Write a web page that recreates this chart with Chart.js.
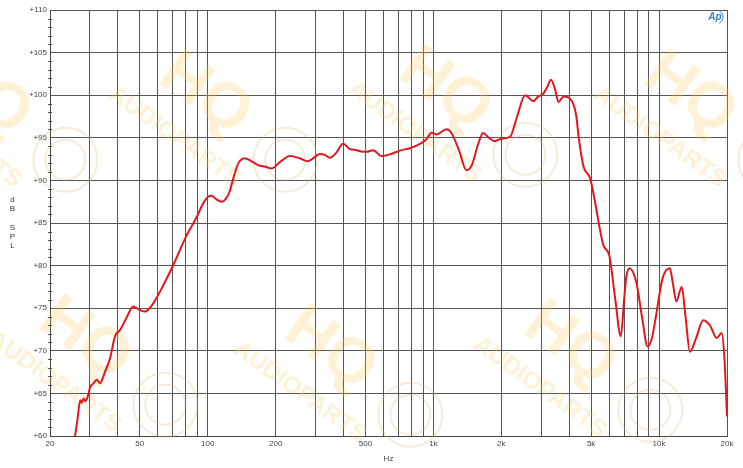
<!DOCTYPE html>
<html lang="en">
<head>
<meta charset="UTF-8">
<title>Frequency response</title>
<script src="https://cdn.jsdelivr.net/npm/chart.js"></script>
<style>
    html, body { margin: 0; padding: 0; background: #fff; }
    #wrap { width: 743px; height: 468px; }
</style>
</head>
<body>
<div id="wrap"><canvas id="fr"></canvas></div>
<script>
// frequencies (Hz) and SPL (dB)
var freqs = [25.5, 26.5, 27.2, 27.6, 28.2, 28.7, 29.3, 30.1, 31.2, 32.2, 33.3, 35, 36.9, 38.8, 40.9, 43.5, 46.8, 48, 50, 52.7,
    55.3, 58.4, 63, 70.4, 80.8, 89.4, 95, 100.6, 104, 109, 115.4, 120, 125, 130, 136.6, 146, 155, 167, 180, 192,
    210, 231.6, 255, 278, 300, 314, 330, 348, 370, 398, 425, 456, 480, 506, 540, 590, 650, 710, 790, 872,
    930, 982, 1035, 1144, 1200, 1300, 1400, 1480, 1580, 1660, 1760, 1872, 2000, 2184, 2350, 2548, 2772, 2900, 3072, 3200,
    3314, 3450, 3584, 3772, 4112, 4300, 4400, 4630, 4956, 5200, 5664, 6016, 6400, 6766, 7000, 7160, 7400, 7920, 8400, 8900,
    9300, 9680, 10360, 11160, 11500, 11920, 12600, 13100, 13700, 14600, 15680, 16800, 18000, 18940, 19500, 20000];
var spl = [59.0, 62.0, 64.2, 63.9, 64.4, 64.1, 64.5, 65.7, 66.2, 66.6, 66.2, 67.5, 69.1, 71.7, 72.45, 73.8, 75.2, 75.06, 74.8, 74.6,
    75.0, 75.9, 77.5, 80.07, 83.6, 85.7, 87.2, 88.1, 88.2, 87.8, 87.5, 87.8, 88.67, 90.3, 92.0, 92.6, 92.3, 91.8, 91.6, 91.4,
    92.2, 92.85, 92.6, 92.26, 92.8, 93.1, 93.0, 92.65, 93.2, 94.3, 93.7, 93.55, 93.4, 93.35, 93.55, 92.85, 93.1, 93.5, 93.8, 94.3,
    94.8, 95.6, 95.4, 96.0, 95.6, 93.5, 91.2, 91.8, 94.3, 95.57, 95.0, 94.6, 94.9, 95.1, 97.5, 100.0, 99.3, 99.8, 100.2, 101.0,
    101.8, 100.8, 99.2, 99.85, 99.3, 97.5, 95.1, 91.6, 90.2, 87.5, 82.4, 81.2, 76.0, 71.7, 76.0, 78.7, 79.7, 78.1, 74.0, 70.5,
    71.5, 74.0, 78.5, 79.7, 78.0, 75.8, 77.5, 74.0, 69.9, 71.5, 73.6, 73.0, 71.5, 72.1, 69.0, 62.3];

var xGrid = [20, 30, 40, 50, 60, 70, 80, 90, 100, 200, 300, 400, 500, 600, 700, 800, 900,
    1000, 2000, 3000, 4000, 5000, 6000, 7000, 8000, 9000, 10000, 20000];
var xLabelValues = [20, 50, 100, 200, 500, 1000, 2000, 5000, 10000, 20000];
var xLabelTexts = ['20', '50', '100', '200', '500', '1k', '2k', '5k', '10k', '20k'];
var yTicks = [60, 65, 70, 75, 80, 85, 90, 95, 100, 105, 110];
var yTitle = ['d', 'B', '', 'S', 'P', 'L'];

var points = freqs.map(function(f, i) { return { x: f, y: spl[i] }; });

// faint watermark logos behind the grid
var watermark = {
    id: 'watermark',
    beforeDatasetsDraw: function(chart) {
        var ctx = chart.ctx;
        var spots = [[-15, 95], [205, 95], [445, 90], [690, 95], [85, 340], [330, 350], [570, 345]];
        ctx.save();
        spots.forEach(function(p) {
            ctx.save();
            ctx.translate(p[0], p[1]);
            ctx.rotate(0.62);
            ctx.fillStyle = 'rgba(255, 196, 80, 0.24)';
            ctx.strokeStyle = 'rgba(230, 180, 120, 0.28)';
            ctx.textAlign = 'center';
            ctx.textBaseline = 'middle';
            ctx.font = 'bold 64px "Liberation Sans", Arial, sans-serif';
            ctx.fillText('HQ', 0, 0);
            ctx.font = 'bold 24px "Liberation Sans", Arial, sans-serif';
            ctx.fillText('AUDIOPARTS', 0, 52);
            ctx.lineWidth = 2;
            ctx.beginPath();
            ctx.arc(103, 6, 32, 0, Math.PI * 2);
            ctx.stroke();
            ctx.beginPath();
            ctx.arc(103, 6, 20, 0, Math.PI * 2);
            ctx.stroke();
            ctx.restore();
        });
        ctx.restore();
    }
};

// minor y ticks, stacked y title and the Ap logo
var decor = {
    id: 'decor',
    afterDraw: function(chart) {
        var ctx = chart.ctx;
        var y = chart.scales.y;
        var a = chart.chartArea;
        ctx.save();
        ctx.strokeStyle = '#555';
        ctx.lineWidth = 1;
        for (var v = 60; v <= 110; v++) {
            if (v % 5 === 0) continue;
            var py = Math.round(y.getPixelForValue(v)) + 0.5;
            ctx.beginPath();
            ctx.moveTo(a.left - 2, py);
            ctx.lineTo(a.left + 2, py);
            ctx.stroke();
        }
        ctx.fillStyle = '#333';
        ctx.font = '8px "Liberation Sans", Arial, sans-serif';
        ctx.textAlign = 'center';
        ctx.textBaseline = 'middle';
        yTitle.forEach(function(ch, i) {
            ctx.fillText(ch, 12.5, 200 + i * 9.2);
        });
        ctx.fillStyle = '#3b7cc4';
        ctx.font = 'italic bold 10px "Liberation Sans", Arial, sans-serif';
        ctx.fillText('Ap', 715, 17);
        ctx.strokeStyle = '#3b7cc4';
        ctx.beginPath();
        ctx.arc(716, 17, 7, -1.1, 1.1);
        ctx.stroke();
        ctx.restore();
    }
};

new Chart(document.getElementById('fr'), {
    type: 'line',
    data: {
        datasets: [{
            data: points,
            borderColor: '#e3161b',
            borderWidth: 2,
            pointRadius: 0,
            fill: false,
            cubicInterpolationMode: 'monotone'
        }]
    },
    options: {
        responsive: true,
        maintainAspectRatio: false,
        animation: false,
        layout: { padding: { left: 0, right: 16, top: 10, bottom: 0 } },
        plugins: { legend: { display: false }, tooltip: { enabled: false } },
        scales: {
            x: {
                type: 'logarithmic',
                min: 20,
                max: 20000,
                afterBuildTicks: function(scale) {
                    scale.ticks = xGrid.map(function(v) { return { value: v }; });
                },
                afterFit: function(scale) { scale.height = 32; },
                grid: { color: '#555', drawTicks: false },
                border: { color: '#444' },
                ticks: {
                    autoSkip: false,
                    maxRotation: 0,
                    padding: 3,
                    color: '#444',
                    font: { family: '"Liberation Sans", Arial, sans-serif', size: 8 },
                    callback: function(value) {
                        var k = xLabelValues.indexOf(value);
                        return k >= 0 ? xLabelTexts[k] : '';
                    }
                },
                title: {
                    display: true,
                    text: 'Hz',
                    color: '#444',
                    padding: { top: 0 },
                    font: { family: '"Liberation Sans", Arial, sans-serif', size: 8 }
                }
            },
            y: {
                min: 60,
                max: 110,
                afterBuildTicks: function(scale) {
                    scale.ticks = yTicks.map(function(v) { return { value: v }; });
                },
                afterFit: function(scale) { scale.width = 50; },
                grid: { color: '#555', drawTicks: false },
                border: { color: '#444' },
                ticks: {
                    padding: 3,
                    color: '#444',
                    font: { family: '"Liberation Sans", Arial, sans-serif', size: 8 },
                    callback: function(value) { return '+' + value; }
                }
            }
        }
    },
    plugins: [watermark, decor]
});
</script>
</body>
</html>
